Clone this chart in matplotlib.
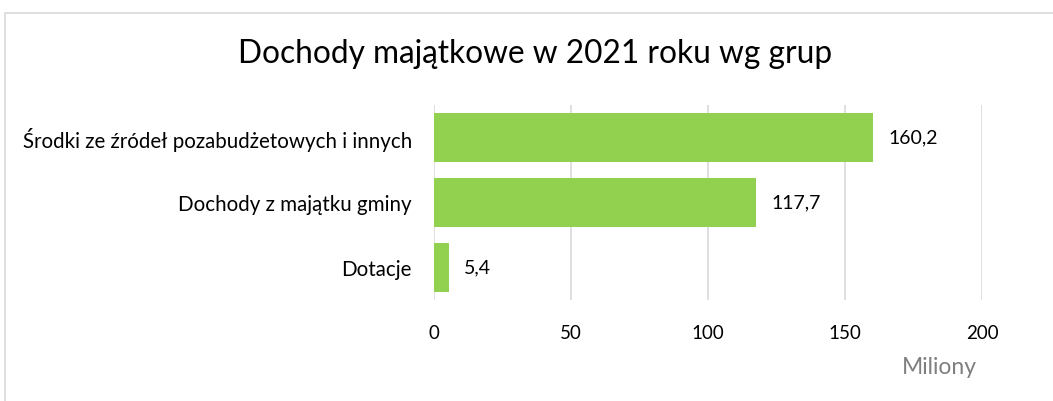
import matplotlib.pyplot as plt
from matplotlib.patches import Rectangle

categories = ["Środki ze źródeł pozabudżetowych i innych", "Dochody z majątku gminy", "Dotacje"]
values = [160.2, 117.7, 5.4]
value_labels = ["160,2", "117,7", "5,4"]
x_ticks = [0, 50, 100, 150, 200]

plt.rcParams['font.family'] = ['Lato', 'DejaVu Sans']

fig = plt.figure(figsize=(10.53, 4.01), dpi=100)
ax = fig.add_axes([434 / 1053, 1 - 300 / 401, (982 - 434) / 1053, 195 / 401])

# chart border
fig.patches.append(Rectangle((5 / 1053, -0.2), 1.2, 1.2 - 13 / 401, transform=fig.transFigure,
                             fill=False, edgecolor='#d9d9d9', linewidth=1.2))

pos = list(range(len(categories)))
ax.barh(pos, values, height=0.75, color='#92d050', zorder=3)
for p, v, lab in zip(pos, values, value_labels):
    ax.annotate(lab, (v, p), xytext=(11, 0), textcoords='offset points', va='center', ha='left',
                fontsize=14, color='#000000')

ax.set_xlim(0, 200)
ax.set_ylim(2.5, -0.5)
ax.set_xticks(x_ticks)
ax.set_yticks(pos)
ax.set_yticklabels(categories, fontsize=14.8)
ax.grid(axis='x', color='#d9d9d9', linewidth=1.2, zorder=0)
for s in ax.spines.values():
    s.set_visible(False)
ax.tick_params(axis='both', length=0, colors='#000000')
ax.tick_params(axis='x', labelsize=13.5, pad=18)
ax.tick_params(axis='y', pad=16)

fig.text(535 / 1053, 1 - 54 / 401, "Dochody majątkowe w 2021 roku wg grup", ha='center', va='center', fontsize=22.8)
fig.text(939 / 1053, 1 - 368 / 401, "Miliony", ha='center', va='center', fontsize=16.5, color='#7f7f7f')

fig.savefig('out.png', dpi=100)
